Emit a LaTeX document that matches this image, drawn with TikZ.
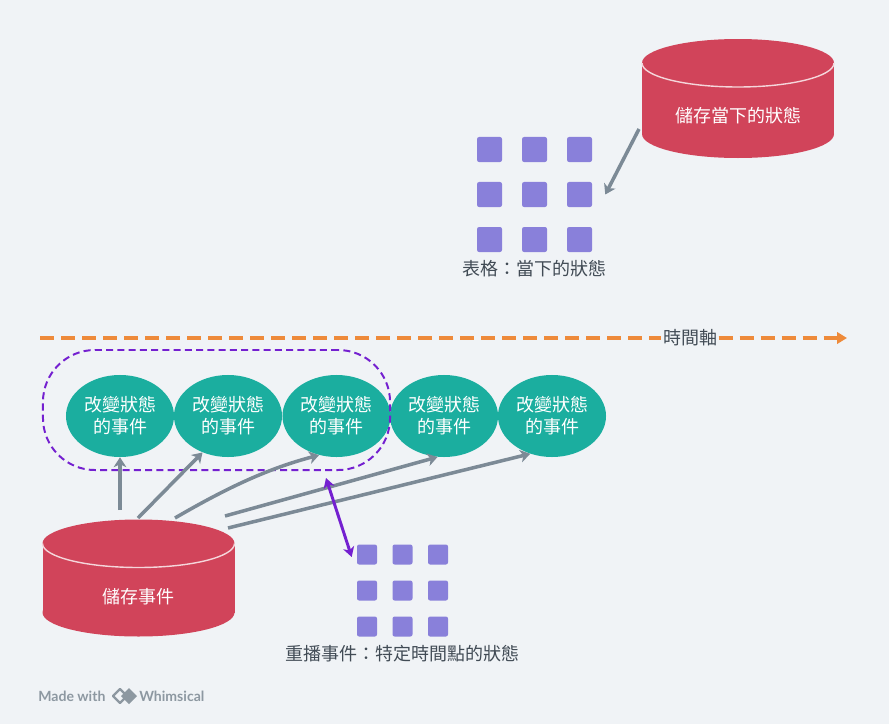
\documentclass[tikz,border=0pt]{standalone}
\usepackage{fontspec}
\newfontfamily\cjk{Noto Sans CJK TC}
\newfontfamily\wmfont{Lato}
\usetikzlibrary{calc,arrows.meta,shapes.geometric}
\definecolor{paper}{HTML}{F0F3F6}
\definecolor{drumred}{HTML}{D1445A}
\definecolor{evtteal}{HTML}{1BAE9F}
\definecolor{cellpurple}{HTML}{8980DA}
\definecolor{flowgray}{HTML}{7C8A96}
\definecolor{axisorange}{HTML}{EE8A3A}
\definecolor{replaypurple}{HTML}{7420D0}
\definecolor{labelgray}{HTML}{414B55}
\definecolor{wmgray}{HTML}{8D98A1}
% \drum(name)(cx,top,bottom){text}
\def\drum(#1)(#2,#3,#4)#5{%
	\fill[drumred] (#2-96,#3) rectangle (#2+96,#4);
	\fill[drumred] (#2,#4) ellipse (96 and 24);
	\fill[drumred] (#2,#3) ellipse (96 and 24);
	\draw[line width=1pt, color=white!78!drumred] (#2-96,#3) arc (180:0:96 and 24);
	\node[drumtext] (#1) at (#2,#3+53) {#5};}

\begin{document}
\begin{tikzpicture}[x=0.025cm, y=-0.025cm,
		drumtext/.style={text=white, inner sep=0pt, font=\cjk\fontsize{12.8}{15.6}\selectfont},
		evt/.style={ellipse, fill=evtteal, minimum width=2.7cm, minimum height=2.05cm, inner sep=0pt, align=center, text=white, font=\cjk\fontsize{12.8}{15.6}\selectfont},
		cell/.style={fill=cellpurple, rounded corners=1.5pt, inner sep=0pt, minimum size=0.625cm},
		smallcell/.style={cell, minimum size=0.5cm},
		caption/.style={text=labelgray, inner sep=1pt, font=\cjk\fontsize{12.8}{15.6}\selectfont},
		flow/.style={draw=flowgray, line width=2.5pt, -{Stealth[length=7pt,width=9pt,inset=2pt]}},
		axisline/.style={draw=axisorange, line width=2.5pt, dash pattern=on 0.35cm off 0.175cm},
		replayset/.style={draw=replaypurple, line width=1.4pt, dash pattern=on 5pt off 3pt, rounded corners=1.3cm, minimum width=8.675cm, minimum height=3cm},
		replay/.style={draw=replaypurple, line width=2.1pt, {Stealth[length=7pt,width=8pt,inset=2pt]}-{Stealth[length=7pt,width=8pt,inset=2pt]}},
		wm/.style={text=wmgray, inner sep=0pt, font=\wmfont\bfseries\fontsize{10}{12}\selectfont}]
	%%%%% START %%%%%
	
	\fill[paper] (0,0) rectangle (889,724);
	
	\drum(statedb)(738,63,134){儲存當下的狀態}
	
	\foreach \i in {0,1,2}
		\foreach \j in {0,1,2}
			\node[cell] (t\i\j) at (489.5+45*\i,149.5+45*\j) {};
	\node[caption] (nowlabel) at (534.5,269) {表格：當下的狀態};
	
	\coordinate (statedb-sw) at (639,129);
	\draw[flow] (statedb-sw) -- ($(t21.east)+(13,0)$);
	
	\coordinate (t0) at (40,338);
	\coordinate (t1) at (847,338);
	\node[caption, fill=paper] (axis) at (690,338) {時間軸};
	\draw[axisline] (t0) -- (axis);
	\draw[axisline, -{Triangle[length=7pt,width=8pt]}] (axis) -- (t1);
	
	\node[evt] (e1) at (120,416) {改變狀態\\的事件};
	\node[evt] (e2) at (228,416) {改變狀態\\的事件};
	\node[evt] (e3) at (336.5,416) {改變狀態\\的事件};
	\node[evt] (e4) at (444,416) {改變狀態\\的事件};
	\node[evt] (e5) at (552,416) {改變狀態\\的事件};
	
	\node[replayset] (replaygroup) at (216.5,410) {};
	
	\drum(eventdb)(138.5,543.5,612.5){儲存事件}
	
	\coordinate (a1) at (120,510);
	\coordinate (a2) at (138,518);
	\coordinate (a3) at (175,518);
	\coordinate (a4) at (225,516);
	\coordinate (a5) at (228,528);
	\draw[flow] (a1) -- (e1.south);
	\draw[flow] (a2) -- (e2.235);
	\draw[flow] (a3) .. controls (230,486) and (270,468) .. (e3.246);
	\draw[flow] (a4) -- (e4.261);
	\draw[flow] (a5) -- (e5.240);
	
	\foreach \i in {0,1,2}
		\foreach \j in {0,1,2}
			\node[smallcell] (b\i\j) at (367+35.5*\i,554.5+36*\j) {};
	\node[caption] (replaylabel) at (402.5,654) {重播事件：特定時間點的狀態};
	
	\coordinate (r0) at ($(replaygroup.south)+(109.5,7)$);
	\draw[replay] (r0) -- ($(b00.west)+(-5,2.5)$);
	
	\node[wm, anchor=west] (made) at (38,696) {Made with};
	\draw[wmgray, line width=1.6pt, line join=round] (113,696) -- (120,689) -- (127,696) -- (120,703) -- cycle;
	\fill[wmgray] (121,696) -- (129,688) -- (137,696) -- (129,704) -- cycle;
	\node[wm, anchor=west] (whim) at (139,696) {Whimsical};
	
	%%%%% END %%%%%
\end{tikzpicture}
\end{document}
